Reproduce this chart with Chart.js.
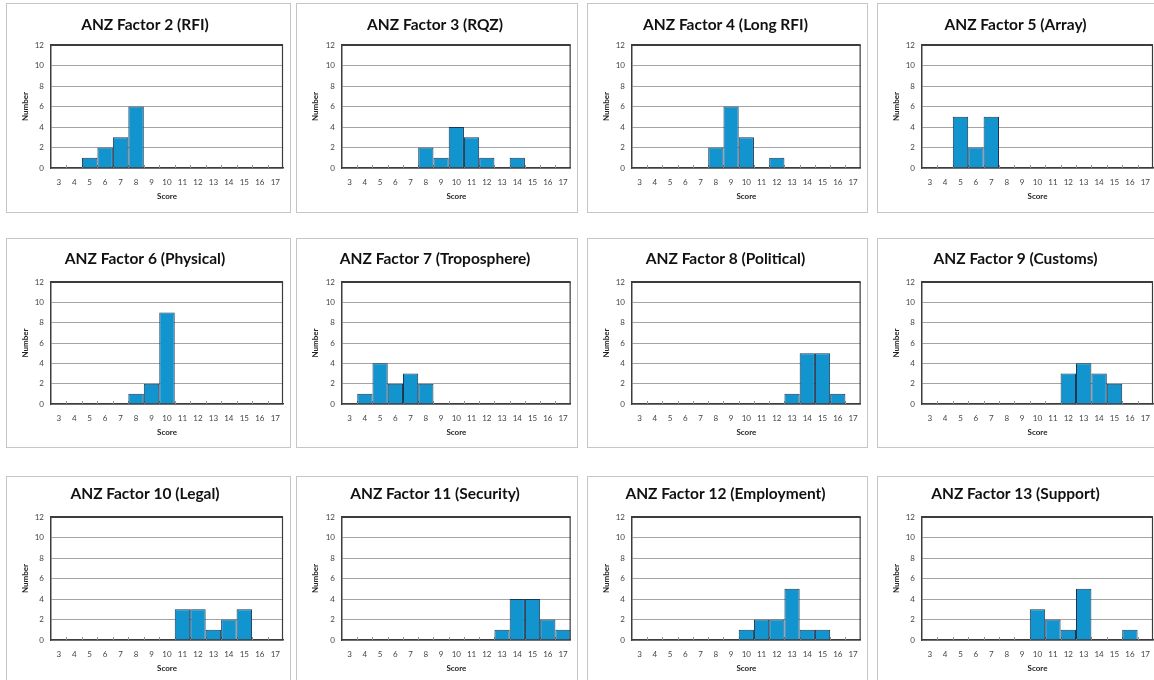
<!DOCTYPE html>
<html><head><meta charset="utf-8">
<script src="https://cdn.jsdelivr.net/npm/chart.js@4"></script>
<style>
html,body{margin:0;padding:0;background:#fff;width:1154px;height:680px;overflow:hidden;position:relative}
.box{position:absolute;border:1px solid #c6c6c6;box-sizing:border-box;background:#fff}
canvas{position:absolute}
</style></head><body>
<script>
const categories = ['3','4','5','6','7','8','9','10','11','12','13','14','15','16','17'];
const yTickValues = [0,2,4,6,8,10,12];
const titles = ['ANZ Factor 2 (RFI)','ANZ Factor 3 (RQZ)','ANZ Factor 4 (Long RFI)','ANZ Factor 5 (Array)',
  'ANZ Factor 6 (Physical)','ANZ Factor 7 (Troposphere)','ANZ Factor 8 (Political)','ANZ Factor 9 (Customs)',
  'ANZ Factor 10 (Legal)','ANZ Factor 11 (Security)','ANZ Factor 12 (Employment)','ANZ Factor 13 (Support)'];
const factor2  = [0,0,1,2,3,6,0,0,0,0,0,0,0,0,0];
const factor3  = [0,0,0,0,0,2,1,4,3,1,0,1,0,0,0];
const factor4  = [0,0,0,0,0,2,6,3,0,1,0,0,0,0,0];
const factor5  = [0,0,5,2,5,0,0,0,0,0,0,0,0,0,0];
const factor6  = [0,0,0,0,0,1,2,9,0,0,0,0,0,0,0];
const factor7  = [0,1,4,2,3,2,0,0,0,0,0,0,0,0,0];
const factor8  = [0,0,0,0,0,0,0,0,0,0,1,5,5,1,0];
const factor9  = [0,0,0,0,0,0,0,0,0,3,4,3,2,0,0];
const factor10 = [0,0,0,0,0,0,0,0,3,3,1,2,3,0,0];
const factor11 = [0,0,0,0,0,0,0,0,0,0,1,4,4,2,1];
const factor12 = [0,0,0,0,0,0,0,1,2,2,5,1,1,0,0];
const factor13 = [0,0,0,0,0,0,0,3,2,1,5,0,0,1,0];
const series = [factor2,factor3,factor4,factor5,factor6,factor7,factor8,factor9,factor10,factor11,factor12,factor13];

// layout (page pixels)
const rows = [
  {top:3,   bottom:213, title:25,  plotTop:45,  plotBottom:168, xlab:182, score:196},
  {top:238, bottom:448, title:259, plotTop:282, plotBottom:404, xlab:418, score:432},
  {top:476, bottom:692, title:494, plotTop:517, plotBottom:640, xlab:654, score:668}
];
const cols = [
  {left:6,   right:291,  plotLeft:51,  plotRight:283},
  {left:296, right:578,  plotLeft:342, plotRight:573},
  {left:587, right:868,  plotLeft:632, plotRight:863},
  {left:877, right:1162, plotLeft:922, plotRight:1153}
];

const FONT = 'Lato, "Open Sans", sans-serif';

const framePlugin = {
  id: 'frame',
  beforeDatasetsDraw(chart) {
    const {ctx, chartArea: a, scales: {x}} = chart;
    ctx.save();
    ctx.strokeStyle = '#909090';
    ctx.lineWidth = 1;
    for (let i = 1; i < categories.length; i++) {
      const px = Math.round((x.getPixelForValue(i - 1) + x.getPixelForValue(i)) / 2) + 0.5;
      ctx.beginPath(); ctx.moveTo(px, a.bottom); ctx.lineTo(px, a.bottom - 3); ctx.stroke();
    }
    ctx.restore();
  },
  afterDraw(chart) {
    const {ctx, chartArea: a} = chart;
    ctx.save();
    ctx.strokeStyle = '#3c3c3c';
    ctx.lineWidth = 1.2;
    ctx.beginPath(); ctx.moveTo(a.right - 0.5, a.top); ctx.lineTo(a.right - 0.5, a.bottom); ctx.stroke();
    ctx.lineWidth = 2;
    ctx.beginPath(); ctx.moveTo(a.left, a.top); ctx.lineTo(a.right, a.top); ctx.stroke();
    ctx.restore();
  }
};

series.forEach((data, k) => {
  const r = rows[Math.floor(k / 4)], c = cols[k % 4];
  const box = document.createElement('div');
  box.className = 'box';
  box.style.left = c.left + 'px'; box.style.top = r.top + 'px';
  box.style.width = (c.right - c.left) + 'px'; box.style.height = (r.bottom - r.top) + 'px';
  document.body.appendChild(box);

  const cx0 = c.left + 1, cy0 = r.top + 1;
  const cw = c.right - c.left - 2, ch = r.bottom - r.top - 2;
  const cv = document.createElement('canvas');
  cv.width = cw; cv.height = ch;
  cv.style.left = cx0 + 'px'; cv.style.top = cy0 + 'px';
  cv.style.width = cw + 'px'; cv.style.height = ch + 'px';
  document.body.appendChild(cv);

  const titleSize = 15.5, titleLH = titleSize * 1.2;
  const tPadTop = (r.title - cy0) - titleLH / 2;
  const tPadBottom = (r.plotTop - cy0) - titleLH - tPadTop;
  const smallLH = 8 * 1.2;

  new Chart(cv, {
    type: 'bar',
    data: {
      labels: categories,
      datasets: [{
        data: data,
        backgroundColor: '#1295cf',
        borderColor: '#1b3652',
        borderWidth: 1,
        barPercentage: 1,
        categoryPercentage: 1,
        inflateAmount: 0
      }]
    },
    options: {
      responsive: false,
      animation: false,
      devicePixelRatio: 1,
      layout: {padding: {left: 0, top: 0, bottom: 0, right: cw - (c.plotRight - cx0)}},
      plugins: {
        legend: {display: false},
        tooltip: {enabled: false},
        title: {
          display: true,
          text: titles[k],
          color: '#111',
          font: {family: FONT, size: titleSize, weight: 'bold', lineHeight: 1.2},
          padding: {top: tPadTop, bottom: tPadBottom}
        }
      },
      scales: {
        x: {
          grid: {display: false, drawTicks: false},
          border: {display: true, color: '#3c3c3c', width: 1.5},
          ticks: {
            color: '#444', padding: r.xlab - r.plotBottom - smallLH / 2,
            font: {family: FONT, size: 8, lineHeight: 1.2},
            maxRotation: 0, autoSkip: false
          },
          title: {
            display: true, text: 'Score', color: '#222',
            font: {family: FONT, size: 8, weight: 'bold', lineHeight: 1.2},
            padding: {top: 0, bottom: (r.bottom - 1) - r.score - smallLH / 2}
          },
          afterFit: s => { s.height = ch - (r.plotBottom - cy0); }
        },
        y: {
          min: 0, max: 12,
          afterBuildTicks: s => { s.ticks = yTickValues.map(v => ({value: v})); },
          grid: {color: '#a4a4a4', lineWidth: 1, drawTicks: false},
          border: {display: true, color: '#3c3c3c', width: 1.5},
          ticks: {
            color: '#444', padding: 7,
            font: {family: FONT, size: 8, lineHeight: 1.2}
          },
          title: {
            display: true, text: 'Number', color: '#222',
            font: {family: FONT, size: 8, weight: 'bold', lineHeight: 1.2},
            padding: {top: 18 - smallLH / 2, bottom: 0}
          },
          afterFit: s => { s.width = c.plotLeft - cx0; }
        }
      }
    },
    plugins: [framePlugin]
  });
});
</script>
</body></html>
